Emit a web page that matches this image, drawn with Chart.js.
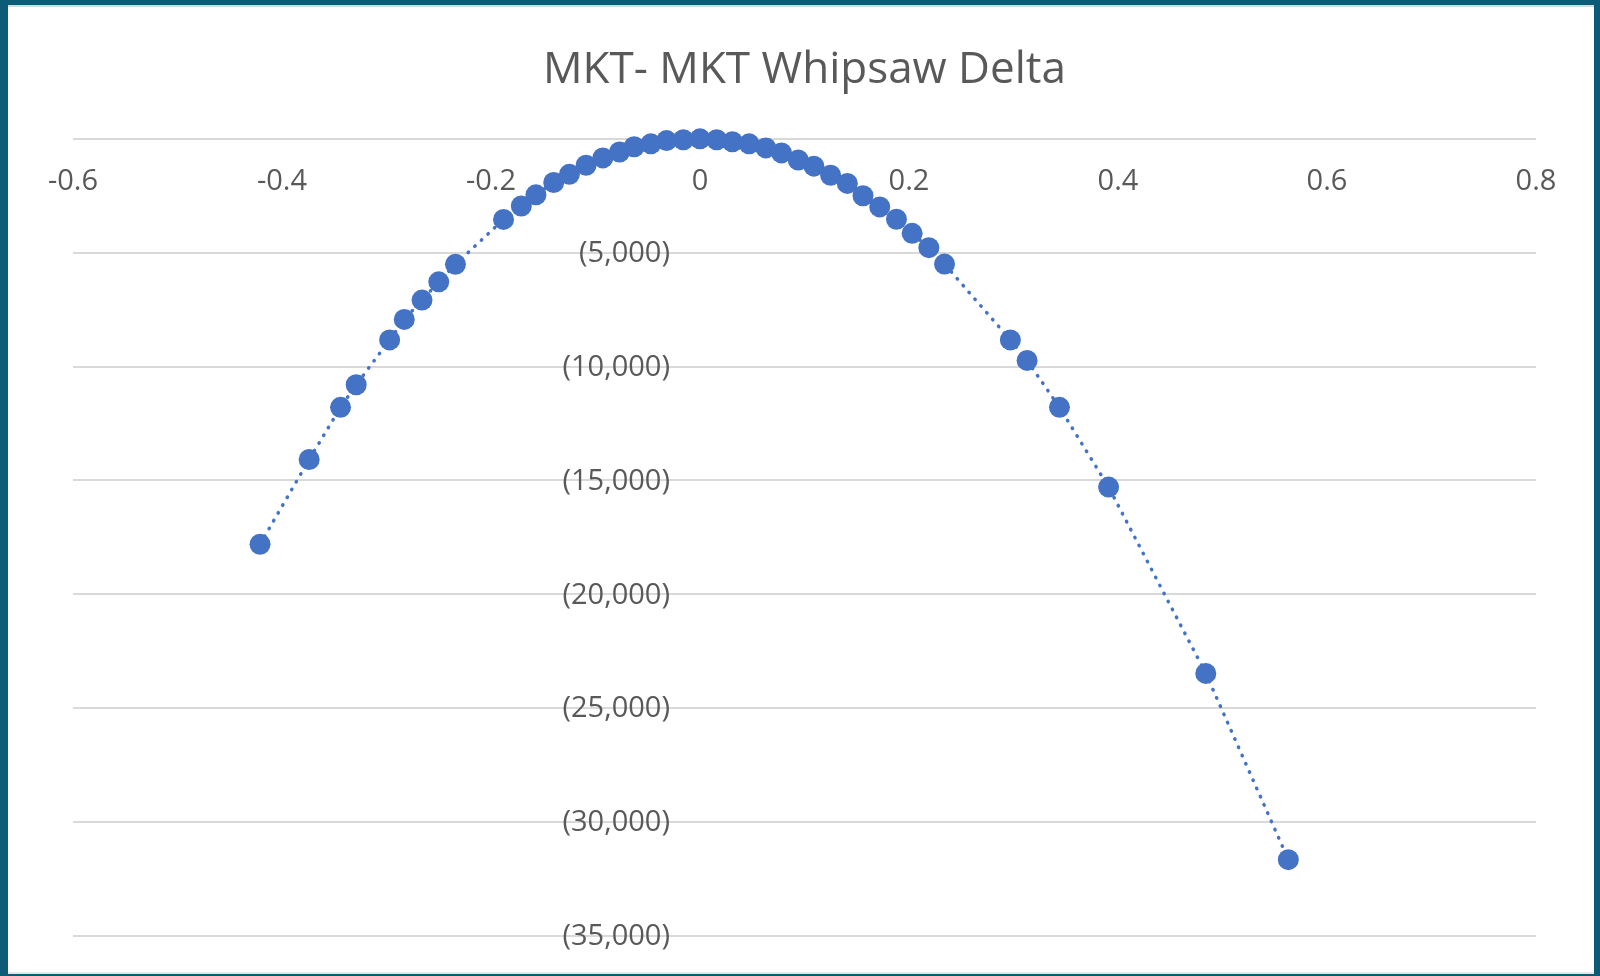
<!DOCTYPE html>
<html>
<head>
<meta charset="utf-8">
<script src="https://cdn.jsdelivr.net/npm/chart.js@4/dist/chart.umd.min.js"></script>
<style>
  html, body { margin: 0; padding: 0; width: 1600px; height: 976px; overflow: hidden; background: #0d5c77; }
  #frame { position: absolute; left: 8px; top: 5px; width: 1586px; height: 969px; background: #ffffff;
           border-top: 2px solid #cfdde3; border-bottom: 2px solid #e2e7e9; box-sizing: border-box; }
  #wrap { position: absolute; left: 0; top: 0; width: 1600px; height: 976px; }
</style>
</head>
<body>
<div id="frame"></div>
<div id="wrap"><canvas id="chart" width="1600" height="976"></canvas></div>
<script>
// Whipsaw delta versus market move
const xValues = [-0.421, -0.374, -0.344, -0.329, -0.297, -0.283, -0.266, -0.250, -0.234, -0.188,
                 -0.171, -0.157, -0.140, -0.125, -0.109, -0.093, -0.077, -0.063, -0.047, -0.032,
                 -0.016, 0.000, 0.016, 0.031, 0.047, 0.063, 0.078, 0.094, 0.109, 0.125,
                 0.141, 0.156, 0.172, 0.188, 0.203, 0.219, 0.234, 0.297, 0.313, 0.344,
                 0.391, 0.484, 0.563];
const yValues = [-17800, -14080, -11790, -10800, -8830, -7930, -7080, -6280, -5510, -3540,
                 -2950, -2460, -1920, -1560, -1160, -840, -580, -350, -220, -80,
                 -40, 0, -40, -130, -220, -400, -620, -930, -1200, -1600,
                 -1960, -2500, -2990, -3530, -4150, -4780, -5500, -8830, -9730, -11790,
                 -15290, -23470, -31650];

const xTickValues = [-0.6, -0.4, -0.2, 0, 0.2, 0.4, 0.6, 0.8];
const xTickLabels = ['-0.6', '-0.4', '-0.2', '0', '0.2', '0.4', '0.6', '0.8'];
const yTickValues = [-5000, -10000, -15000, -20000, -25000, -30000, -35000];
const yTickLabels = ['(5,000)', '(10,000)', '(15,000)', '(20,000)', '(25,000)', '(30,000)', '(35,000)'];

const FONT = '"Open Sans", "Noto Sans", sans-serif';
const TEXT = '#595959';
const BLUE = '#4472C4';

const points = xValues.map((x, i) => ({ x: x, y: yValues[i] }));

// Tick labels sit against the crossing axes (x labels under the zero line, y labels left of x = 0)
const crossingLabels = {
  id: 'crossingLabels',
  beforeDatasetsDraw(chart) {
    const ctx = chart.ctx;
    const xs = chart.scales.x, ys = chart.scales.y;
    const y0 = ys.getPixelForValue(0);
    const x0 = xs.getPixelForValue(0);
    ctx.save();
    ctx.fillStyle = TEXT;
    ctx.font = '29px ' + FONT;
    ctx.textBaseline = 'middle';
    ctx.textAlign = 'center';
    xTickValues.forEach((v, i) => {
      ctx.fillText(xTickLabels[i], xs.getPixelForValue(v), y0 + 43);
    });
    ctx.textAlign = 'right';
    yTickValues.forEach((v, i) => {
      ctx.fillText(yTickLabels[i], x0 - 30, ys.getPixelForValue(v) + 1);
    });
    ctx.restore();
  }
};

new Chart(document.getElementById('chart'), {
  type: 'scatter',
  data: {
    datasets: [{
      data: points,
      showLine: true,
      borderColor: BLUE,
      borderWidth: 3.5,
      borderDash: [0.5, 8.5],
      borderCapStyle: 'round',
      tension: 0,
      pointRadius: 10.5,
      pointHoverRadius: 10.5,
      pointBackgroundColor: BLUE,
      pointBorderWidth: 0,
      clip: false
    }]
  },
  options: {
    responsive: false,
    animation: false,
    layout: { padding: { left: 73, right: 64, top: 22, bottom: 40 } },
    plugins: {
      legend: { display: false },
      tooltip: { enabled: false },
      title: {
        display: true,
        text: 'MKT- MKT Whipsaw Delta',
        color: TEXT,
        font: { family: FONT, size: 44, weight: 'normal', lineHeight: 1.2 },
        padding: { top: 22, bottom: 42 }
      }
    },
    scales: {
      x: {
        type: 'linear',
        min: -0.6,
        max: 0.8,
        ticks: { display: false, stepSize: 0.2 },
        grid: { display: false, drawTicks: false },
        border: { display: false }
      },
      y: {
        type: 'linear',
        min: -35000,
        max: 0,
        ticks: { display: false, stepSize: 5000 },
        grid: { color: '#d9d9d9', lineWidth: 2, drawTicks: false },
        border: { display: false }
      }
    }
  },
  plugins: [crossingLabels]
});
</script>
</body>
</html>
